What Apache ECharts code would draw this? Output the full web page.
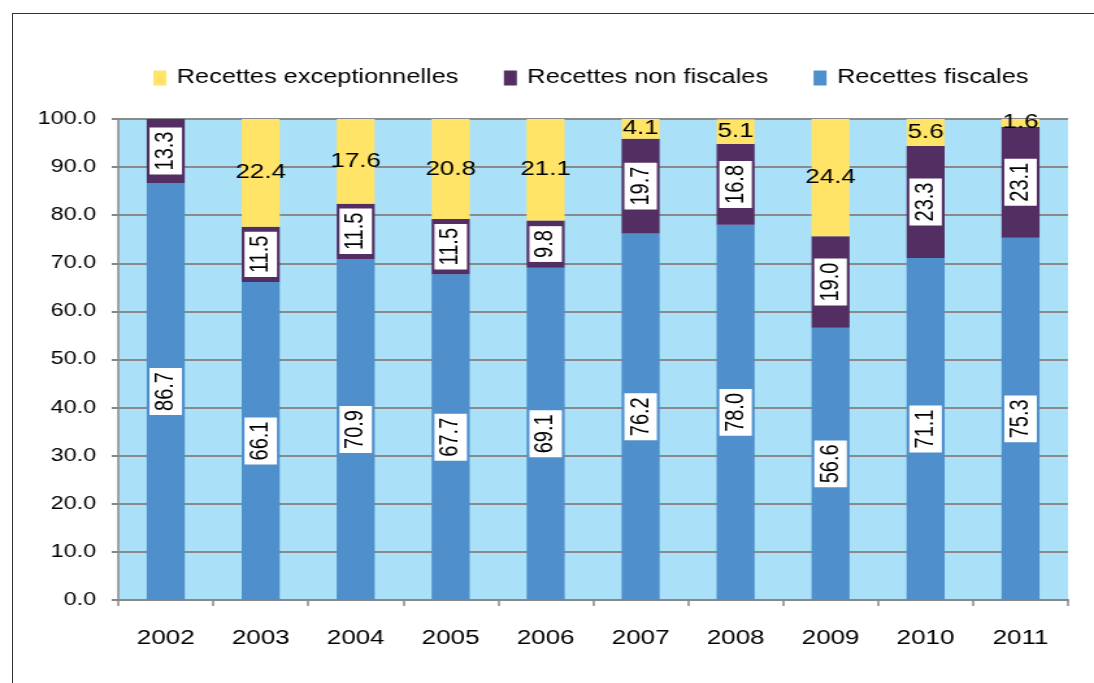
<!DOCTYPE html>
<html>
<head>
<meta charset="utf-8">
<title>Recettes</title>
<script src="https://cdn.jsdelivr.net/npm/echarts@6/dist/echarts.min.js"></script>
<style>
  html, body { margin: 0; padding: 0; background: #fff; overflow: hidden; }
  /* the original picture is stretched sideways, so the chart is drawn narrower and widened */
  #chartBox { position: absolute; left: 0; top: 0; width: 842px; height: 683px;
              transform: scaleX(1.2993); transform-origin: 0 0; }
  #frame { position: absolute; left: 12px; top: 13px; width: 1200px; height: 800px;
           border-left: 1.5px solid #333; border-top: 1.5px solid #333; }
</style>
</head>
<body>
<div id="frame"></div>
<div id="chartBox"></div>
<script>
var years = ['2002', '2003', '2004', '2005', '2006', '2007', '2008', '2009', '2010', '2011'];
var fiscales = [86.7, 66.1, 70.9, 67.7, 69.1, 76.2, 78.0, 56.6, 71.1, 75.3];
var nonFiscales = [13.3, 11.5, 11.5, 11.5, 9.8, 19.7, 16.8, 19.0, 23.3, 23.1];
var exceptionnelles = [0, 22.4, 17.6, 20.8, 21.1, 4.1, 5.1, 24.4, 5.6, 1.6];

var chart = echarts.init(document.getElementById('chartBox'));

var font = 'Liberation Sans, Arial, sans-serif';

// labels tournés dans une boite blanche
var boxLabel = {
    show: true,
    position: 'inside',
    rotate: 90,
    color: '#000',
    fontFamily: font,
    fontSize: 20,
    lineHeight: 21,
    backgroundColor: '#fff',
    padding: [2, 4, 2, 4],
    formatter: function (p) { return p.value.toFixed(1); }
};

chart.setOption({
    animation: false,
    color: ['#4e8fcc', '#532e63', '#ffe468'],
    legend: {
        data: ['Recettes exceptionnelles', 'Recettes non fiscales', 'Recettes fiscales'],
        left: 113,
        top: 63,
        icon: 'rect',
        itemWidth: 10,
        itemHeight: 15,
        itemGap: 35,
        textStyle: {
            fontFamily: font,
            fontSize: 19.5,
            color: '#000',
            padding: [0, 0, 0, 3]
        }
    },
    grid: {
        left: 91,
        right: 20,
        top: 119,
        bottom: 83,
        show: true,
        backgroundColor: '#abe0f9',
        borderWidth: 0
    },
    xAxis: {
        type: 'category',
        data: years,
        axisLine: { lineStyle: { color: '#888', width: 2 } },
        axisTick: { show: true, length: 6, lineStyle: { color: '#888', width: 1.5 } },
        axisLabel: { fontFamily: font, fontSize: 20, color: '#000', margin: 28 }
    },
    yAxis: {
        type: 'value',
        min: 0,
        max: 100,
        interval: 10,
        axisLine: { show: true, lineStyle: { color: '#888', width: 1.5 } },
        axisTick: { show: true, length: 5, lineStyle: { color: '#888', width: 2 } },
        axisLabel: {
            fontFamily: font, fontSize: 18, color: '#000', margin: 17,
            formatter: function (v) { return v.toFixed(1); }
        },
        splitLine: { show: true, lineStyle: { color: '#8a8a8a', width: 2 } }
    },
    series: [
        {
            name: 'Recettes fiscales',
            type: 'bar',
            stack: 'tot',
            barWidth: '40%',
            data: fiscales,
            label: boxLabel
        },
        {
            name: 'Recettes non fiscales',
            type: 'bar',
            stack: 'tot',
            data: nonFiscales,
            label: boxLabel
        },
        {
            name: 'Recettes exceptionnelles',
            type: 'bar',
            stack: 'tot',
            data: exceptionnelles,
            label: {
                show: true,
                position: 'inside',
                color: '#000',
                fontFamily: font,
                fontSize: 20,
                formatter: function (p) { return p.value ? p.value.toFixed(1) : ''; }
            }
        }
    ]
});
</script>
</body>
</html>
